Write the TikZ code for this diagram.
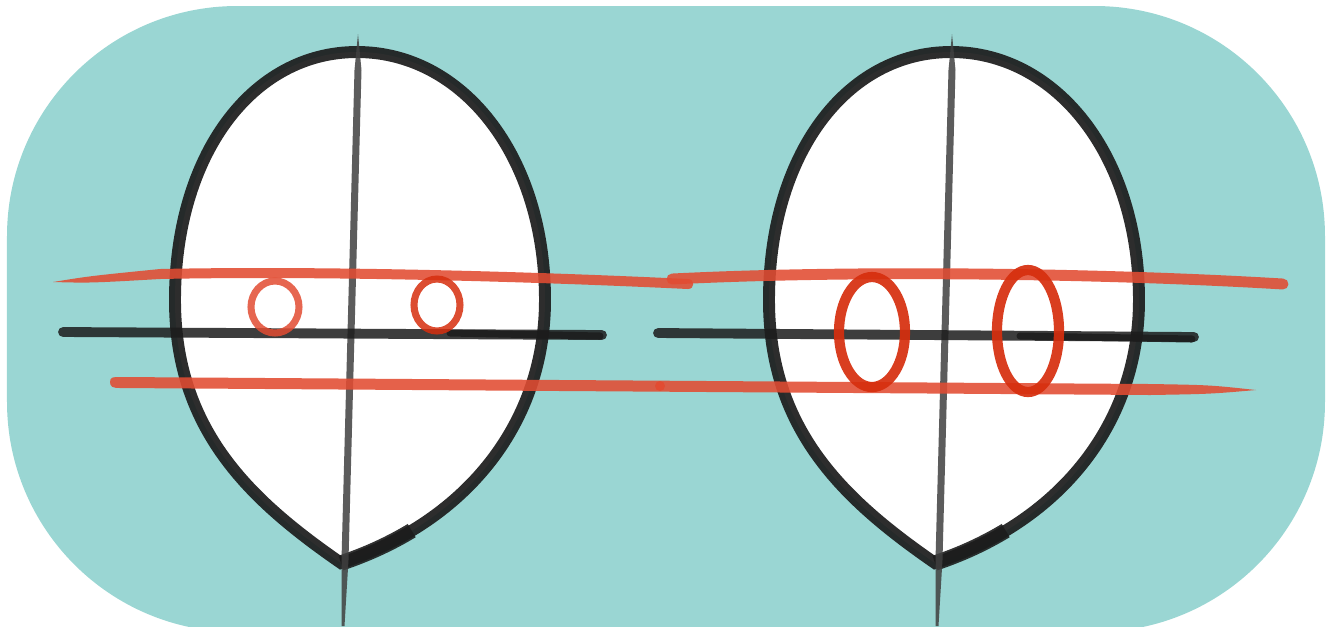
\documentclass[tikz,border=0pt]{standalone}
\usepackage{tikz}

\definecolor{bgteal}{RGB}{154,214,211}
\definecolor{inkblack}{RGB}{28,28,28}
\definecolor{redline}{RGB}{226,76,50}
\definecolor{redeye}{RGB}{214,46,14}

\begin{document}
\begin{tikzpicture}[x=0.01cm, y=-0.01cm,
  outline/.style={draw=inkblack, line width=3.4pt, draw opacity=0.92, fill=white},
  midline/.style={draw=inkblack, line width=2.8pt, line cap=round, draw opacity=0.85},
  redstroke/.style={draw=redline, line width=3.1pt, line cap=round, draw opacity=0.88},
  vline/.style={fill=black!75, fill opacity=0.85}]
\useasboundingbox (0,0) rectangle (1332,626);
% background
\fill[bgteal, rounded corners=2.3cm] (7,6) rectangle (1325,632);
% two heads, same egg shape
\foreach \dx in {0,594} {
  \begin{scope}[shift={(\dx,0)}]
    \draw[outline] (357,52) .. controls (462,52) and (545,155) .. (545,300)
      .. controls (545,420) and (470,520) .. (341,563)
      .. controls (250,500) and (175,430) .. (175,300)
      .. controls (175,155) and (252,52) .. (357,52) -- cycle;
    % heavier stroke at the chin
    \draw[inkblack, line width=4.4pt, opacity=0.9] (411.7,530.6)
      .. controls (390.4,543.5) and (366.8,554.4) .. (341,563);
    % centre line
    \fill[vline] (358,34) -- (361.5,70) -- (348.5,560) -- (344.5,626) -- (341.5,626)
      -- (341.5,560) -- (354.5,70) -- cycle;
  \end{scope}
}
% eye line
\draw[midline] (63,332) -- (602,335);
\draw[midline] (658,333) -- (1194,337);
\draw[midline, line width=2pt] (450,333) -- (600,336);
\draw[midline, line width=2pt] (1020,336) -- (1192,339);
% upper red line
\fill[redline, opacity=0.88] (53,282) .. controls (90,276) .. (160,269)
  .. controls (300,266) and (500,270) .. (688,279)
  .. controls (695,279) and (695,289) .. (688,289)
  .. controls (500,280) and (300,276) .. (160,279)
  .. controls (90,283) .. (53,282) -- cycle;
\draw[redstroke] (672,279) .. controls (850,270) and (1100,273) .. (1283,284);
% lower red line
\fill[redline, opacity=0.88] (110,382) .. controls (110,377) and (113,377) .. (120,377)
  -- (1150,384) .. controls (1210,385) .. (1256,390)
  .. controls (1210,394) .. (1150,395)
  -- (120,388) .. controls (113,388) and (110,387) .. (110,382) -- cycle;
\fill[redline] (660,386) circle[radius=5];
% eyes
\draw[redline, line width=2pt, opacity=0.85] (275,307) ellipse[x radius=24, y radius=26];
\draw[redeye, line width=2pt, opacity=0.85] (437,305) ellipse[x radius=23, y radius=26];
\draw[redeye, line width=2.9pt, opacity=0.92] (872,332) ellipse[x radius=33, y radius=55];
\draw[redeye, line width=2.9pt, opacity=0.92] (1028,331) ellipse[x radius=31, y radius=61];
\end{tikzpicture}
\end{document}
